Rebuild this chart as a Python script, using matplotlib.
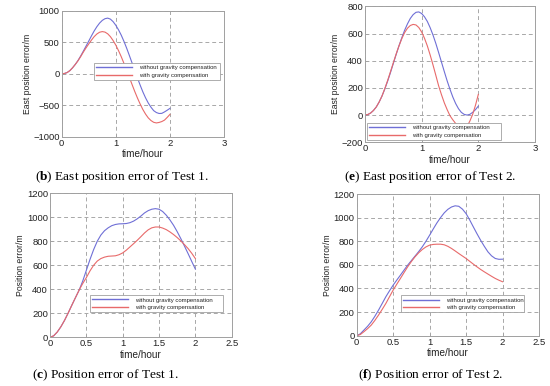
import matplotlib
matplotlib.use("Agg")
import matplotlib.pyplot as plt

plt.rcParams['font.family'] = ['Liberation Sans', 'DejaVu Sans']
plt.rcParams['mathtext.fontset'] = 'custom'
plt.rcParams['mathtext.rm'] = 'Liberation Serif'
plt.rcParams['mathtext.bf'] = 'Liberation Serif:bold'

# ---------------- data ----------------
t = [0.0, 0.05, 0.1, 0.15, 0.2, 0.25, 0.3, 0.35, 0.4, 0.45, 0.5,
     0.55, 0.6, 0.65, 0.7, 0.75, 0.8, 0.85, 0.9, 0.95, 1.0,
     1.05, 1.1, 1.15, 1.2, 1.25, 1.3, 1.35, 1.4, 1.45, 1.5,
     1.55, 1.6, 1.65, 1.7, 1.75, 1.8, 1.85, 1.9, 1.95, 2.0]

# (b) East position error of Test 1
b_without = [0, 5, 20, 50, 95, 148, 210, 282, 360, 440, 520,
             602, 680, 748, 805, 848, 875, 884, 868, 828, 770,
             698, 614, 516, 408, 292, 173, 52, -66, -180, -287,
             -382, -464, -530, -585, -615, -630, -628, -605, -578, -549]
b_with = [0, 5, 20, 50, 95, 148, 205, 272, 345, 412, 475,
          535, 590, 632, 660, 670, 662, 635, 590, 528, 455,
          368, 272, 167, 57, -56, -169, -280, -384, -480, -567,
          -640, -700, -742, -770, -780, -772, -758, -735, -692, -645]

# (e) East position error of Test 2
e_without = [0, 4, 15, 34, 60, 96, 140, 192, 250, 313, 380,
             446, 510, 570, 625, 672, 712, 740, 757, 760, 748,
             724, 690, 644, 590, 528, 460, 390, 320, 252, 190,
             133, 85, 47, 20, 5, 0, 5, 20, 40, 66]
e_with = [0, 4, 15, 34, 60, 96, 140, 195, 255, 320, 385,
          450, 510, 563, 608, 640, 660, 668, 664, 645, 612,
          566, 510, 443, 370, 293, 215, 150, 90, 40, -5,
          -35, -62, -85, -100, -103, -85, -45, 5, 72, 152]

# (c) Position error of Test 1
c_without = [0, 12, 44, 88, 141, 202, 267, 330, 392, 468, 558,
             648, 730, 800, 852, 888, 912, 930, 940, 945, 946,
             948, 955, 968, 987, 1010, 1036, 1055, 1067, 1072, 1067,
             1048, 1017, 978, 933, 880, 822, 760, 697, 632, 568]
c_with = [0, 12, 44, 88, 141, 202, 267, 330, 392, 448, 497,
          553, 600, 635, 656, 668, 675, 677, 679, 688, 703,
          726, 753, 780, 808, 838, 869, 895, 912, 919, 919,
          910, 897, 878, 856, 831, 803, 772, 739, 700, 656]

# (f) Position error of Test 2
f_without = [0, 16, 48, 80, 118, 165, 217, 273, 330, 380, 428,
             471, 513, 556, 598, 636, 674, 712, 753, 800, 851,
             904, 955, 1000, 1040, 1070, 1090, 1100, 1096, 1072, 1034,
             980, 921, 863, 808, 757, 710, 676, 654, 647, 648]
f_with = [0, 10, 34, 60, 90, 130, 175, 223, 273, 330, 386,
          436, 485, 535, 584, 628, 668, 702, 730, 752, 767,
          773, 775, 775, 770, 757, 739, 718, 696, 675, 654,
          630, 606, 583, 561, 541, 522, 503, 485, 470, 457]

legend_labels = ["without gravity compensation", "with gravity compensation"]

panels = [
    dict(rect=[0.1122, 0.6456, 0.2951, 0.3264], y1=b_without, y2=b_with,
         xlim=(0, 3), xticks=[0, 1, 2, 3], xtl=["0", "1", "2", "3"],
         ylim=(-1000, 1000), yticks=[-1000, -500, 0, 500, 1000],
         ylabel="East position error/m", leg=(0.20, 0.45, 0.775, 0.15),
         cap=("b", "East position error of Test 1."), capxy=(121.7, 176.7)),
    dict(rect=[0.6636, 0.6316, 0.3091, 0.3516], y1=e_without, y2=e_with,
         xlim=(0, 3), xticks=[0, 1, 2, 3], xtl=["0", "1", "2", "3"],
         ylim=(-200, 800), yticks=[-200, 0, 200, 400, 600, 800],
         ylabel="East position error/m", leg=(0.014, 0.016, 0.786, 0.14),
         cap=("e", "East position error of Test 2."), capxy=(430.3, 176.7)),
    dict(rect=[0.0909, 0.1262, 0.3304, 0.3731], y1=c_without, y2=c_with,
         xlim=(0, 2.5), xticks=[0, 0.5, 1, 1.5, 2, 2.5],
         xtl=["0", "0.5", "1", "1.5", "2", "2.5"],
         ylim=(0, 1200), yticks=[0, 200, 400, 600, 800, 1000, 1200],
         ylabel="Position error/m", leg=(0.22, 0.174, 0.73, 0.146),
         cap=("c", "Position error of Test 1."), capxy=(105, 375.7)),
    dict(rect=[0.6485, 0.1303, 0.3315, 0.3671], y1=f_without, y2=f_with,
         xlim=(0, 2.5), xticks=[0, 0.5, 1, 1.5, 2, 2.5],
         xtl=["0", "0.5", "1", "1.5", "2", "2.5"],
         ylim=(0, 1200), yticks=[0, 200, 400, 600, 800, 1000, 1200],
         ylabel="Position error/m", leg=(0.243, 0.165, 0.677, 0.145),
         cap=("f", "Position error of Test 2."), capxy=(430.5, 375.7)),
]

W, H = 550, 386
fig = plt.figure(figsize=(W / 100, H / 100), dpi=100)

for p in panels:
    ax = fig.add_axes(p["rect"])
    ax.plot(t, p["y1"], color="#6f6fd6", lw=0.8, label=legend_labels[0])
    ax.plot(t, p["y2"], color="#e86a6a", lw=0.8, label=legend_labels[1])
    ax.set_xlim(*p["xlim"])
    ax.set_ylim(*p["ylim"])
    ax.set_xticks(p["xticks"])
    ax.set_xticklabels(p["xtl"])
    ax.set_yticks(p["yticks"])
    ax.grid(True, linestyle=(0, (4, 3)), color="#a8a8a8", lw=0.7)
    for s in ax.spines.values():
        s.set_color("#a0a0a0")
        s.set_linewidth(0.7)
    ax.tick_params(direction="in", length=2, width=0.5, color="#a0a0a0",
                   labelsize=6.8, pad=1.5, labelcolor="#222222")
    ax.set_xlabel("time/hour", fontsize=7.2, labelpad=1, color="#222222")
    ax.set_ylabel(p["ylabel"], fontsize=6.2, labelpad=1, color="#222222")
    leg = ax.legend(loc="lower left", bbox_to_anchor=p["leg"], mode="expand",
                    fontsize=4.3, handlelength=6.0, frameon=True, fancybox=False,
                    borderpad=0.35, labelspacing=0.4, handletextpad=1.2,
                    borderaxespad=0)
    leg.get_frame().set_edgecolor("#a0a0a0")
    leg.get_frame().set_linewidth(0.6)
    leg.get_frame().set_alpha(1)
    for line in leg.get_lines():
        line.set_linewidth(1.0)
    for txt in leg.get_texts():
        txt.set_color("#222222")
    letter, rest = p["cap"]
    cx, cy = p["capxy"]
    fig.text(cx / W, 1 - cy / H,
             r"(" + r"$\mathbf{" + letter + r"}$" + r") " + rest,
             ha="center", va="center", fontsize=9.6,
             family=["Liberation Serif", "DejaVu Serif"])

fig.savefig("out.png", dpi=100)
